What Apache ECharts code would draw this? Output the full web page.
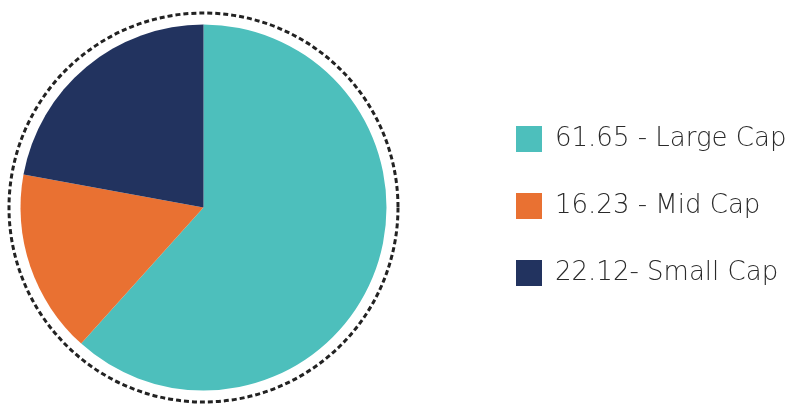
<!DOCTYPE html>
<html><head><meta charset="utf-8">
<script src="https://cdn.jsdelivr.net/npm/echarts@6/dist/echarts.min.js"></script>
<style>html,body{margin:0;padding:0;background:#fff}#c{width:809px;height:414px}</style>
</head><body><div id="c"></div>
<script>
const categories = ['Large Cap', 'Mid Cap', 'Small Cap'];
const values = [61.65, 16.23, 22.12];
const legendLabels = ['61.65 - Large Cap', '16.23 - Mid Cap', '22.12- Small Cap'];
const colors = ['#4DBFBC', '#E97132', '#22335F'];

const chart = echarts.init(document.getElementById('c'), null, {renderer: 'canvas'});
const labelMap = {};
categories.forEach((c, i) => labelMap[c] = legendLabels[i]);
chart.setOption({
  animation: false,
  color: colors,
  graphic: [{
    type: 'circle', shape: {cx: 203.5, cy: 207.5, r: 194.5},
    style: {fill: 'none', stroke: '#222', lineWidth: 3, lineDash: [5, 3]}, z: 0
  }],
  legend: {
    orient: 'vertical', left: 516, top: 126, padding: 0,
    itemWidth: 26, itemHeight: 26, itemGap: 41,
    icon: 'rect',
    formatter: n => labelMap[n],
    textStyle: {fontFamily: 'DejaVu Sans', fontWeight: 300, fontSize: 26, color: '#2a2a2a', padding: [0, 0, 0, 8]}
  },
  series: [{
    type: 'pie', center: [203.5, 207.5], radius: [0, 183],
    startAngle: 90, clockwise: true,
    label: {show: false}, labelLine: {show: false},
    emphasis: {disabled: true},
    itemStyle: {borderWidth: 0},
    data: categories.map((c, i) => ({name: c, value: values[i]}))
  }]
});
</script></body></html>
